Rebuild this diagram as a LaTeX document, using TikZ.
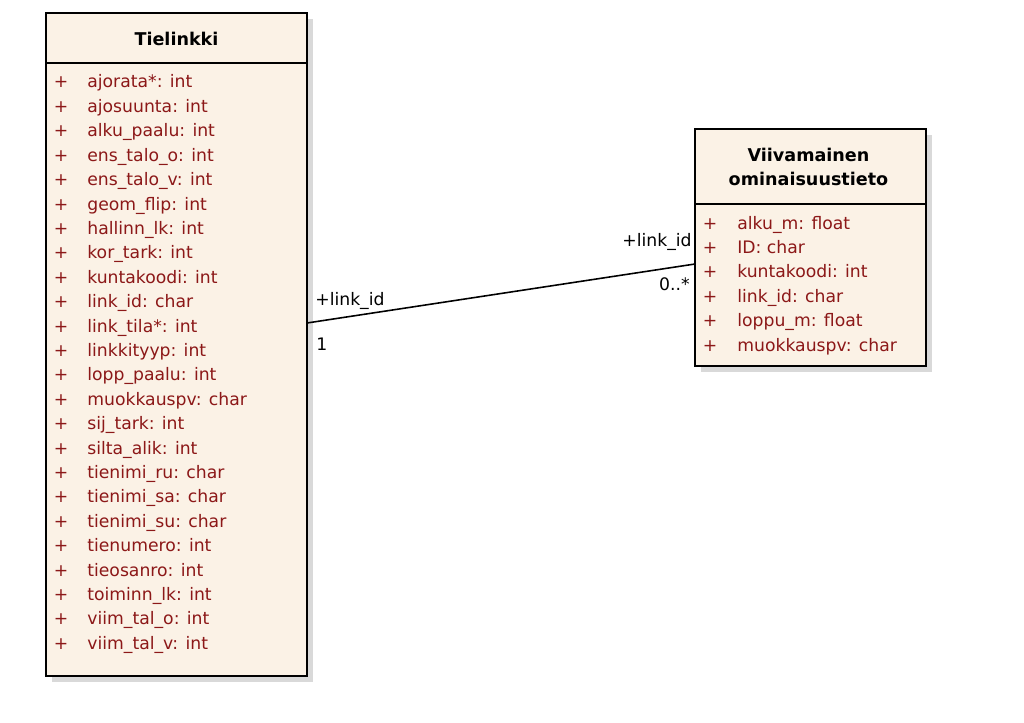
\documentclass[tikz,border=0pt]{standalone}
\usepackage{fontspec}
\setmainfont{DejaVu Sans}
\usetikzlibrary{shadows}
\definecolor{classfill}{RGB}{251,242,230}
\definecolor{attrred}{RGB}{140,24,24}
\tikzset{
  classbox/.style={draw, line width=1.1pt, fill=classfill, inner sep=0pt,
    drop shadow={shadow xshift=0.12cm, shadow yshift=-0.12cm, fill=black!15, opacity=1}},
  classname/.style={anchor=base, inner sep=0pt, font=\bfseries},
  attr/.style={anchor=base west, inner sep=0pt, text=attrred},
  vis/.style={anchor=base, inner sep=0pt, text=attrred},
  endlabel/.style={inner sep=0pt},
}

\begin{document}
\begin{tikzpicture}[font=\fontsize{9.8}{13.6}\selectfont]
  \useasboundingbox (0,0) rectangle (20.48,-14.46);

  % the two classes
  \node[classbox, minimum width=5.22cm, minimum height=13.26cm] (tielinkki) at (3.53,-6.89) {};
  \node[classbox, minimum width=4.62cm, minimum height=4.74cm]  (viiva)     at (16.21,-4.95) {};
  \draw[line width=1.1pt] (tielinkki.north west) ++(0,-1.02) -- ++(5.22,0);
  \draw[line width=1.1pt] (viiva.north west) ++(0,-1.52) -- ++(4.62,0);

  \node[classname] (tielinkkiname) at (3.53,-0.914)  {Tielinkki};
  \node[classname] (viivaname1)    at (16.17,-3.23)  {Viivamainen};
  \node[classname] (viivaname2)    at (16.17,-3.71)  {ominaisuustieto};

  % attributes
  \foreach \a [count=\i from 0] in {ajorata*: int, ajosuunta: int, alku\_paalu: int,
      ens\_talo\_o: int, ens\_talo\_v: int, geom\_flip: int, hallinn\_lk: int,
      kor\_tark: int, kuntakoodi: int, link\_id: char, link\_tila*: int,
      linkkityyp: int, lopp\_paalu: int, muokkauspv: char, sij\_tark: int,
      silta\_alik: int, tienimi\_ru: char, tienimi\_sa: char, tienimi\_su: char,
      tienumero: int, tieosanro: int, toiminn\_lk: int, viim\_tal\_o: int,
      viim\_tal\_v: int} {
    \node[vis]  (tlvis\i)  at (1.22,-1.76-0.488*\i) {+};
    \node[attr] (tlattr\i) at (1.74,-1.76-0.488*\i) {\a};
  }
  \foreach \a [count=\i from 0] in {alku\_m: float, ID: char, kuntakoodi: int,
      link\_id: char, loppu\_m: float, muokkauspv: char} {
    \node[vis]  (vvvis\i)  at (14.2,-4.58-0.488*\i) {+};
    \node[attr] (vvattr\i) at (14.74,-4.58-0.488*\i) {\a};
  }

  % association
  \coordinate (tlend) at (6.14,-6.46);
  \coordinate (vvend) at (13.9,-5.28);
  \draw[line width=0.9pt] (tlend) -- (vvend);

  \node[endlabel, anchor=base west] (tlrole) at (6.3,-6.11)  {+link\_id};
  \node[endlabel, anchor=base west] (tlmult) at (6.32,-7.0)  {1};
  \node[endlabel, anchor=base east] (vvrole) at (13.84,-4.93) {+link\_id};
  \node[endlabel, anchor=base east] (vvmult) at (13.8,-5.8)   {0..*};
\end{tikzpicture}
\end{document}
